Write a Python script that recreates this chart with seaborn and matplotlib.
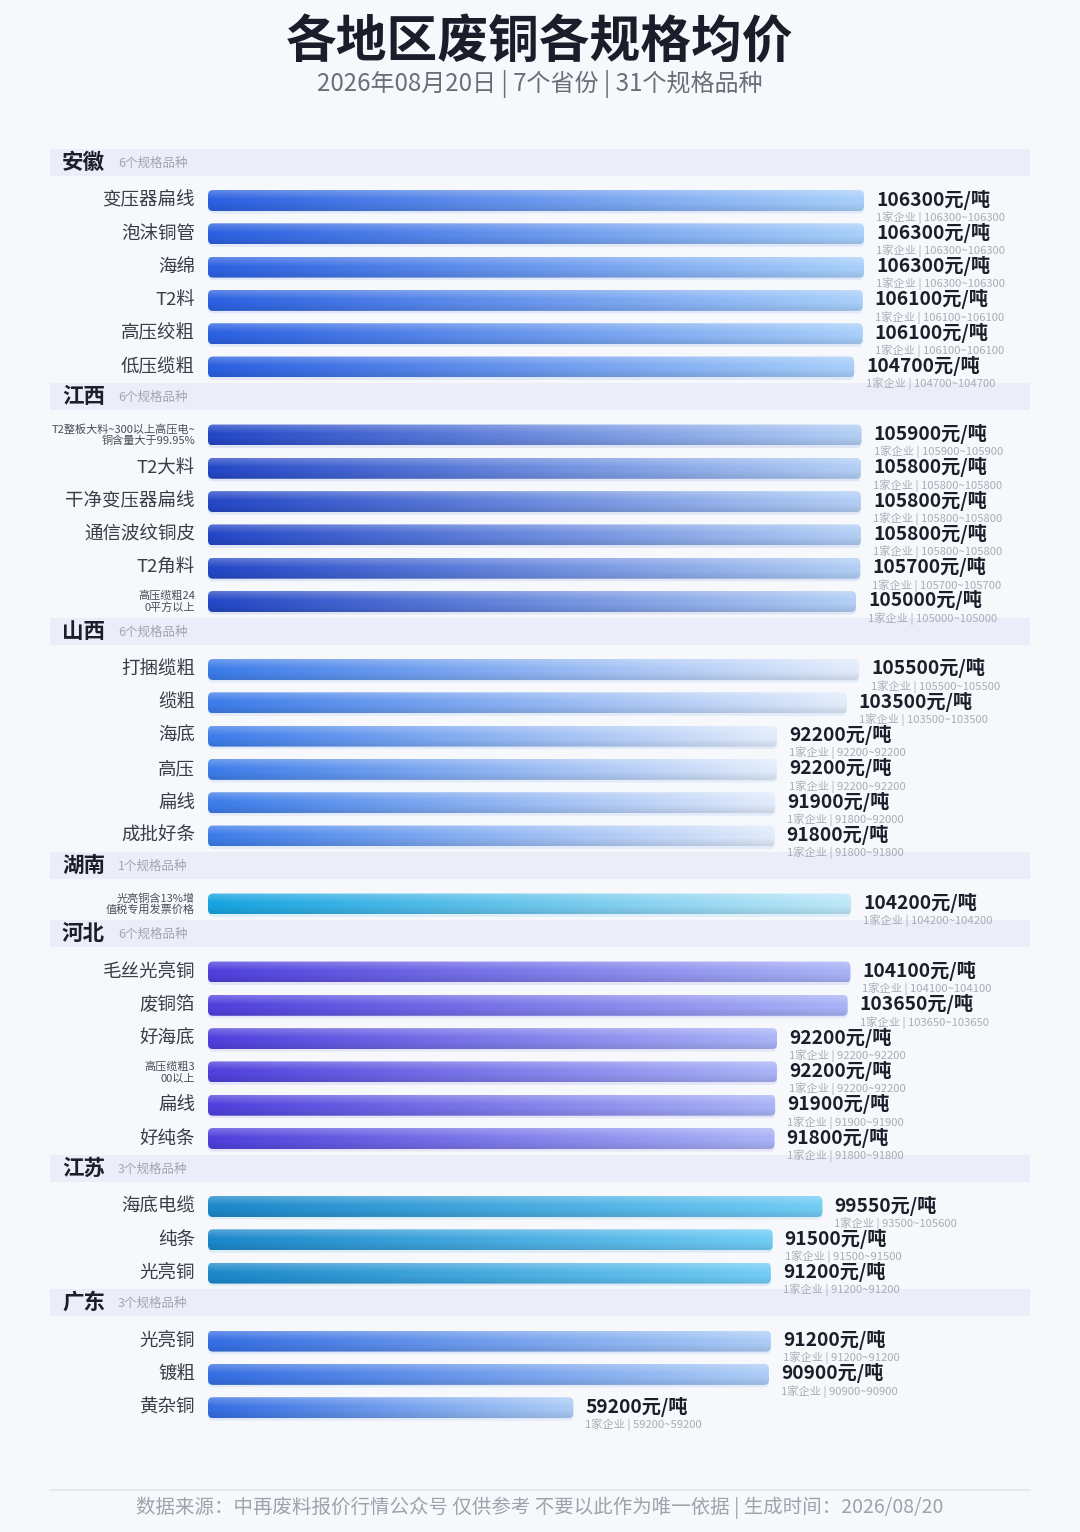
import numpy as np
import pandas as pd
import matplotlib
matplotlib.use("Agg")
import matplotlib.pyplot as plt
import seaborn as sns
from matplotlib.patches import FancyBboxPatch
from matplotlib.lines import Line2D
from matplotlib.colors import to_rgb

# ---------------- data ----------------
region = ["安徽", "安徽", "安徽", "安徽", "安徽", "安徽",
          "江西", "江西", "江西", "江西", "江西", "江西",
          "山西", "山西", "山西", "山西", "山西", "山西",
          "湖南",
          "河北", "河北", "河北", "河北", "河北", "河北",
          "江苏", "江苏", "江苏",
          "广东", "广东", "广东"]
spec = ["变压器扁线", "泡沫铜管", "海绵", "T2料", "高压绞粗", "低压缆粗",
        "T2整板大料~300以上高压电~\n铜含量大于99.95%", "T2大料", "干净变压器扁线", "通信波纹铜皮", "T2角料", "高压缆粗24\n0平方以上",
        "打捆缆粗", "缆粗", "海底", "高压", "扁线", "成批好条",
        "光亮铜含13%增\n值税专用发票价格",
        "毛丝光亮铜", "废铜箔", "好海底", "高压缆粗3\n00以上", "扁线", "好纯条",
        "海底电缆", "纯条", "光亮铜",
        "光亮铜", "镀粗", "黄杂铜"]
price = [106300, 106300, 106300, 106100, 106100, 104700,
         105900, 105800, 105800, 105800, 105700, 105000,
         105500, 103500, 92200, 92200, 91900, 91800,
         104200,
         104100, 103650, 92200, 92200, 91900, 91800,
         99550, 91500, 91200,
         91200, 90900, 59200]
firms = [1, 1, 1, 1, 1, 1,
         1, 1, 1, 1, 1, 1,
         1, 1, 1, 1, 1, 1,
         1,
         1, 1, 1, 1, 1, 1,
         1, 1, 1,
         1, 1, 1]
low = [106300, 106300, 106300, 106100, 106100, 104700,
       105900, 105800, 105800, 105800, 105700, 105000,
       105500, 103500, 92200, 92200, 91800, 91800,
       104200,
       104100, 103650, 92200, 92200, 91900, 91800,
       93500, 91500, 91200,
       91200, 90900, 59200]
high = [106300, 106300, 106300, 106100, 106100, 104700,
        105900, 105800, 105800, 105800, 105700, 105000,
        105500, 103500, 92200, 92200, 92000, 91800,
        104200,
        104100, 103650, 92200, 92200, 91900, 91800,
        105600, 91500, 91200,
        91200, 90900, 59200]

title = "各地区废铜各规格均价"
subtitle = "2026年08月20日 | 7个省份 | 31个规格品种"
footer = "数据来源：中再废料报价行情公众号 仅供参考 不要以此作为唯一依据 | 生成时间：2026/08/20"

grad_colors = {
    "安徽": ("#2a5fe0", "#a9d0fa"),
    "江西": ("#2346c6", "#b3cff5"),
    "山西": ("#3b7be9", "#e2ecfb"),
    "湖南": ("#16a3df", "#bfe8f8"),
    "河北": ("#4f3fdc", "#aab4f6"),
    "江苏": ("#1b87c9", "#72cdf5"),
    "广东": ("#346de2", "#adcdf6"),
}

# ---------------- style ----------------
BG = "#f6f8fc"
W, H = 1080, 1532
sns.set_theme(style="white")
plt.rcParams["font.family"] = ["Noto Sans CJK SC", "DejaVu Sans"]

fig = plt.figure(figsize=(W / 100, H / 100), dpi=100, facecolor=BG)
ax = fig.add_axes([0, 0, 1, 1])
ax.set_facecolor(BG)

X0 = 208.0
SCALE = 656.0 / 106300.0  # px per yuan


def px2x(px):
    return (px - X0) / SCALE


# ---------------- layout ----------------
order = list(dict.fromkeys(region))
ypos = []
headers = []
y = 162.0
for r in order:
    n = region.count(r)
    headers.append((r, y, n))
    yb = y + 38.5
    for i in range(n):
        ypos.append(yb + i * 33.3)
    y = ypos[-1] + 29.5
ypos = np.array(ypos)

df = pd.DataFrame({"y": ypos, "price": price, "region": region})
sns.barplot(data=df, x="price", y="y", orient="y", native_scale=True,
            width=0.63, color="#3a6fe0", linewidth=0, ax=ax)
rects = list(ax.patches)

# gradient bars
NC, NR = 300, 24
tcol = np.linspace(0, 1, NC)
vrow = np.linspace(0, 1, NR)
light = 0.25 * np.clip(1 - vrow / 0.45, 0, 1)
dark = 0.10 * np.clip((vrow - 0.6) / 0.4, 0, 1)

for p in rects:
    x0, y0, w, h = p.get_x(), p.get_y(), p.get_width(), p.get_height()
    if h < 0:
        y0, h = y0 + h, -h
    yc = y0 + h / 2
    idx = int(np.argmin(np.abs(ypos - yc)))
    p.set_visible(False)
    L, R = grad_colors[region[idx]]
    L = np.array(to_rgb(L)); R = np.array(to_rgb(R))
    base = L[None, :] * (1 - tcol[:, None]) + R[None, :] * tcol[:, None]
    img = base[None, :, :] * (1 - light[:, None, None]) + light[:, None, None]
    img = img * (1 - dark[:, None, None])
    img = np.clip(img, 0, 1)

    rad = 5.0 / SCALE
    shadow = FancyBboxPatch((x0, y0 + 2.5), w, h,
                            boxstyle=f"round,pad=0,rounding_size={rad}",
                            mutation_aspect=SCALE, facecolor=L, alpha=0.10,
                            edgecolor="none", zorder=2)
    ax.add_patch(shadow)
    clip = FancyBboxPatch((x0, y0), w, h,
                          boxstyle=f"round,pad=0,rounding_size={rad}",
                          mutation_aspect=SCALE, facecolor="none",
                          edgecolor="none", zorder=3)
    ax.add_patch(clip)
    im = ax.imshow(img, extent=(x0, x0 + w, y0 + h, y0), aspect="auto",
                   interpolation="bilinear", zorder=3, origin="upper")
    im.set_clip_path(clip)

# header bands
tr = ax.get_yaxis_transform()
for r, yh, n in headers:
    ax.axhspan(yh - 13.5, yh + 13.5, xmin=50 / W, xmax=1030 / W,
               color="#ebeef9", zorder=1, lw=0)
    ax.text(62 / W, yh, r, transform=tr, ha="left", va="center",
            fontsize=15.5, fontweight="bold", color="#1c1e2a", zorder=5)
    ax.text(118 / W, yh + 1, f"{n}个规格品种", transform=tr, ha="left",
            va="center", fontsize=9.0, color="#a3a6b0", zorder=5)

# labels
for i in range(len(price)):
    yc = ypos[i]
    s = spec[i]
    if "\n" in s:
        ax.text(195 / W, yc, s, transform=tr, ha="right", va="center",
                fontsize=8.0, color="#4a4d58", linespacing=1.12, zorder=5)
    else:
        ax.text(195 / W, yc, s, transform=tr, ha="right", va="center",
                fontsize=13.3, color="#3a3d48", zorder=5)
    xt = price[i] + 12 / SCALE
    ax.text(xt, yc - 1, f"{price[i]}元/吨", ha="left", va="center",
            fontsize=13.8, fontweight="bold", color="#1c1e2a", zorder=5)
    ax.text(xt, yc + 17, f"{firms[i]}家企业 | {low[i]}~{high[i]}",
            ha="left", va="center", fontsize=8.1, color="#a9acb5", zorder=5)

ax.set_xlim(px2x(0), px2x(W))
ax.set_ylim(H, 0)
ax.axis("off")

# title, subtitle, footer
fig.text(0.5, 1 - 43 / H, title, ha="center", va="center", fontsize=36.5,
         fontweight="heavy", color="#1b1d2b")
fig.text(0.5, 1 - 84 / H, subtitle, ha="center", va="center", fontsize=17.3,
         color="#6b6e78")
fig.add_artist(Line2D([50 / W, 1030 / W], [1 - 1490 / H, 1 - 1490 / H],
                      color="#e3e6ee", lw=1.2))
fig.text(0.5, 1 - 1508 / H, footer, ha="center", va="center", fontsize=14.0,
         color="#9fa2ab")

fig.savefig("out.png", dpi=100, facecolor=BG)
